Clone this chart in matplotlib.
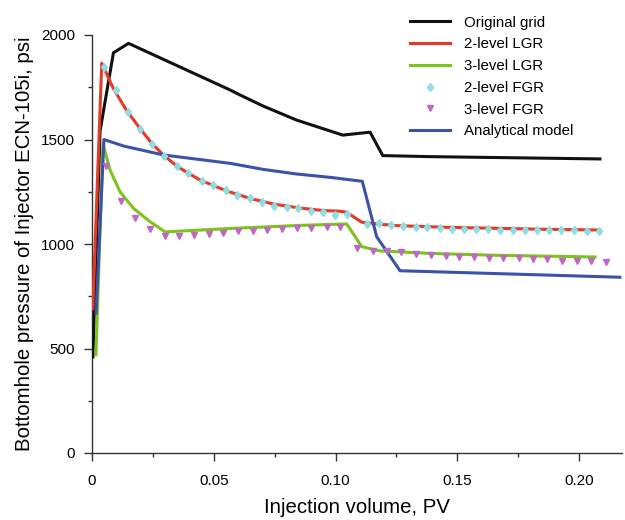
import matplotlib
matplotlib.use("Agg")
import matplotlib.pyplot as plt
from matplotlib.ticker import MultipleLocator, FixedLocator, FixedFormatter

plt.rcParams['font.family'] = ['Liberation Sans', 'DejaVu Sans']

# Original grid
orig_x = [0.0004, 0.0033, 0.0088, 0.0150, 0.0567, 0.0608, 0.0703, 0.0840, 0.1030, 0.1142, 0.1194, 0.1388, 0.2086]
orig_y = [460, 1540, 1915, 1960, 1737, 1713, 1660, 1593, 1521, 1535, 1423, 1418, 1407]

# 2-level LGR
lgr2_x = [0.0003, 0.0040, 0.0087, 0.0141, 0.0197, 0.0245, 0.0293, 0.0348, 0.0396, 0.0444,
          0.0550, 0.0649, 0.0750, 0.0854, 0.0950, 0.1018, 0.1046, 0.1108, 0.1180, 0.1251,
          0.1450, 0.1662, 0.1870, 0.2073]
lgr2_y = [690, 1865, 1745, 1641, 1553, 1482, 1426, 1373, 1338, 1306,
          1255, 1218, 1190, 1172, 1160, 1157, 1152, 1104, 1095, 1088,
          1080, 1075, 1070, 1067]

# 3-level LGR
lgr3_x = [0.0016, 0.0045, 0.0074, 0.0115, 0.0170, 0.0238, 0.0300, 0.0580, 0.0854, 0.1046,
          0.1108, 0.1183, 0.1388, 0.1662, 0.2066]
lgr3_y = [470, 1480, 1354, 1250, 1171, 1107, 1058, 1075, 1089, 1096,
          987, 967, 955, 946, 938]

# 2-level FGR
fgr2_x = [0.0050, 0.0099, 0.0147, 0.0198, 0.0245, 0.0296, 0.0348, 0.0396, 0.0450, 0.0498,
          0.0549, 0.0595, 0.0649, 0.0699, 0.0747, 0.0800, 0.0847, 0.0898, 0.0950, 0.0998,
          0.1049, 0.1128, 0.1180, 0.1228, 0.1279, 0.1329, 0.1377, 0.1429, 0.1478, 0.1527,
          0.1576, 0.1628, 0.1677, 0.1727, 0.1779, 0.1828, 0.1878, 0.1927, 0.1978, 0.2032,
          0.2081]
fgr2_y = [1848, 1737, 1633, 1549, 1477, 1422, 1375, 1338, 1301, 1282,
          1257, 1236, 1218, 1202, 1182, 1175, 1170, 1159, 1154, 1141,
          1142, 1094, 1099, 1091, 1085, 1083, 1080, 1077, 1074, 1072,
          1072, 1071, 1069, 1068, 1067, 1066, 1066, 1066, 1065, 1064,
          1064]

# 3-level FGR
fgr3_x = [0.0057, 0.0118, 0.0178, 0.0238, 0.0298, 0.0359, 0.0419, 0.0479, 0.0539, 0.0600,
          0.0660, 0.0720, 0.0779, 0.0841, 0.0898, 0.0964, 0.1018, 0.1090, 0.1152, 0.1213,
          0.1270, 0.1331, 0.1392, 0.1453, 0.1508, 0.1567, 0.1629, 0.1689, 0.1754, 0.1810,
          0.1870, 0.1929, 0.1991, 0.2049, 0.2112]
fgr3_y = [1373, 1206, 1126, 1073, 1040, 1040, 1044, 1049, 1054, 1062,
          1064, 1067, 1072, 1075, 1078, 1083, 1080, 982, 968, 967,
          960, 952, 947, 941, 938, 936, 932, 932, 932, 928,
          928, 920, 920, 920, 915]

# Analytical model
ana_x = [0.0017, 0.0049, 0.0129, 0.0293, 0.0567, 0.0703, 0.0840, 0.0977, 0.1110, 0.1169, 0.1265, 0.2168]
ana_y = [670, 1500, 1469, 1426, 1386, 1357, 1335, 1319, 1300, 1035, 872, 841]

x_ticks = [0, 0.05, 0.10, 0.15, 0.20]
x_tick_labels = ["0", "0.05", "0.10", "0.15", "0.20"]
y_ticks = [0, 500, 1000, 1500, 2000]

fig = plt.figure(figsize=(6.25, 5.2), dpi=100)
ax = fig.add_axes([92 / 625, 67 / 520, 530 / 625, 418 / 520])

lw = 2.2
ax.plot(orig_x, orig_y, color='#111111', lw=lw, label='Original grid', zorder=3)
ax.plot(lgr2_x, lgr2_y, color='#e43a27', lw=lw, label='2-level LGR', zorder=3)
ax.plot(lgr3_x, lgr3_y, color='#7cc41b', lw=lw, label='3-level LGR', zorder=3)
ax.plot(fgr2_x, fgr2_y, ls='none', marker='d', ms=4.5, color='#8fdde2', mec='#8fdde2',
        label='2-level FGR', zorder=4)
ax.plot(fgr3_x, fgr3_y, ls='none', marker='v', ms=4.5, color='#c066c6', mec='#c066c6',
        label='3-level FGR', zorder=4)
ax.plot(ana_x, ana_y, color='#3a53a8', lw=lw, label='Analytical model', zorder=3)

ax.set_xlim(0, 530 / 2435)
ax.set_ylim(0, 2000)
ax.xaxis.set_major_locator(FixedLocator(x_ticks))
ax.xaxis.set_major_formatter(FixedFormatter(x_tick_labels))
ax.xaxis.set_minor_locator(MultipleLocator(0.025))
ax.yaxis.set_major_locator(FixedLocator(y_ticks))
ax.yaxis.set_minor_locator(MultipleLocator(250))

for s in ['top', 'right']:
    ax.spines[s].set_visible(False)
for s in ['left', 'bottom']:
    ax.spines[s].set_color('#333333')
    ax.spines[s].set_linewidth(1.0)

ax.tick_params(which='major', direction='out', length=6, width=1, color='#333333',
               labelsize=11, pad=6)
ax.tick_params(which='minor', direction='out', length=3, width=1, color='#333333')
ax.tick_params(axis='x', which='major', pad=9)

ax.set_xlabel('Injection volume, PV', fontsize=14.7, labelpad=7)
ax.set_ylabel('Bottomhole pressure of Injector ECN-105i, psi', fontsize=14.7, labelpad=5)

leg = ax.legend(loc='upper left', bbox_to_anchor=(402 / 625, 1 - 8 / 520),
                bbox_transform=fig.transFigure, frameon=False, fontsize=10.8,
                handlelength=2.7, handletextpad=0.9, labelspacing=0.52, borderpad=0)

fig.savefig('out.png', dpi=100)
